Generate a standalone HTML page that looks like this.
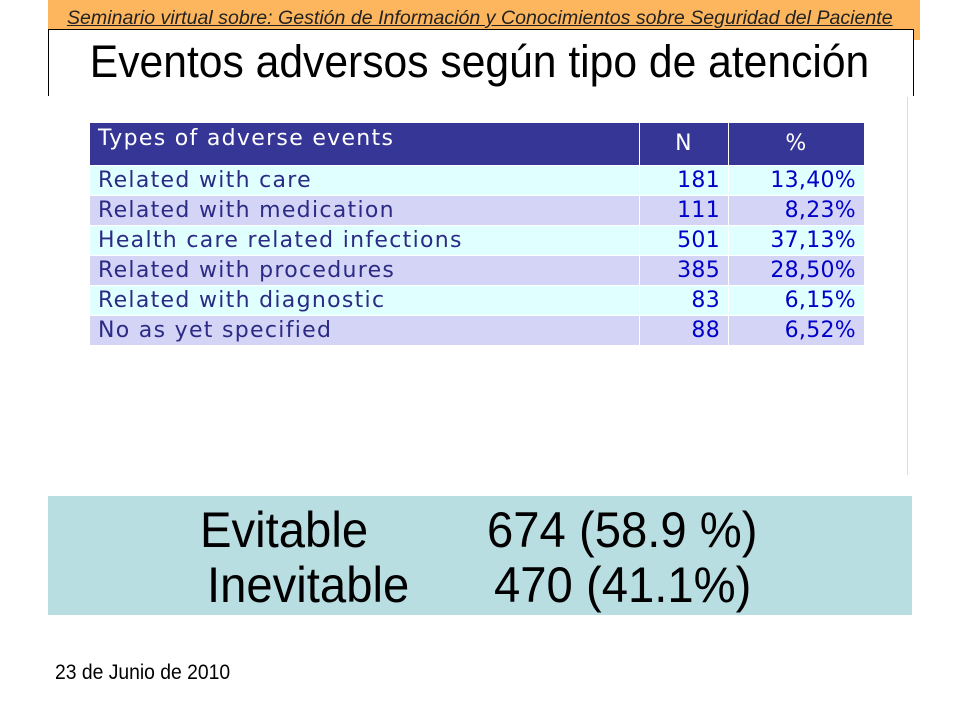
<!DOCTYPE html>
<html><head><meta charset="utf-8">
<style>
body{margin:0;width:960px;height:720px;background:#fff;position:relative;overflow:hidden;font-family:"Liberation Sans",sans-serif}
.abs{position:absolute}
#band{left:48px;top:0;width:872px;height:40px;background:#fdb65d}
#sub{left:0;width:960px;top:8px;text-align:center;font-style:italic;font-size:19px;color:#222;white-space:nowrap}
#sub span{display:inline-block;transform:scaleX(1.03);text-decoration:underline}
#titlebox{left:48px;top:29px;width:864px;height:66px;background:#fff;border-top:1px solid #000;border-left:1px solid #000;border-right:1px solid #000}
#title{left:0;width:960px;top:38px;text-align:center;font-size:45px;color:#000;white-space:nowrap;line-height:48px}
#title span{display:inline-block;transform:scaleX(0.947)}
#vline{left:907px;top:97px;width:1px;height:378px;background:#ddd}
table{position:absolute;left:90px;top:123px;border-collapse:collapse;font-family:"DejaVu Sans",sans-serif;font-size:22px;letter-spacing:1.3px;width:775px}
td{padding:0 8px;height:29px;line-height:29px;white-space:nowrap;border-right:1px solid #fff}
tr.h td{background:#363696;color:#fff;height:36px}
tr.a td{background:#e0ffff;color:#2b2b85;border-top:1px solid #fff}
tr.b td{background:#d4d4f7;color:#2b2b85;border-top:1px solid #fff}
td.n,td.p{text-align:right;color:#0000c8 !important;letter-spacing:0.3px}
#box{left:48px;top:496px;width:864px;height:119px;background:#b9dee2}
.big{font-size:50px;color:#000;white-space:nowrap;line-height:56px}
.big span{display:inline-block;transform-origin:left;transform:scaleX(0.945)}
#date{left:55px;top:661px;font-size:21px;color:#000}
#date span{display:inline-block;transform-origin:left;transform:scaleX(0.92)}
</style></head><body>
<div class="abs" id="band"></div>
<div class="abs" id="sub"><span>Seminario virtual sobre: Gestión de Información y Conocimientos sobre Seguridad del Paciente</span></div>
<div class="abs" id="titlebox"></div>
<div class="abs" id="title"><span>Eventos adversos según tipo de atención</span></div>
<div class="abs" id="vline"></div>
<table>
<tr class="h"><td style="width:533px;vertical-align:top;line-height:32px">Types of adverse events</td><td style="width:72px;text-align:center;line-height:42px">N</td><td style="text-align:center;line-height:42px">%</td></tr>
<tr class="a"><td>Related with care</td><td class="n">181</td><td class="p">13,40%</td></tr>
<tr class="b"><td>Related with medication</td><td class="n">111</td><td class="p">8,23%</td></tr>
<tr class="a"><td>Health care related infections</td><td class="n">501</td><td class="p">37,13%</td></tr>
<tr class="b"><td>Related with procedures</td><td class="n">385</td><td class="p">28,50%</td></tr>
<tr class="a"><td>Related with diagnostic</td><td class="n">83</td><td class="p">6,15%</td></tr>
<tr class="b"><td>No as yet specified</td><td class="n">88</td><td class="p">6,52%</td></tr>
</table>
<div class="abs" id="box"></div>
<div class="abs big" style="left:200px;top:502px"><span>Evitable</span></div>
<div class="abs big" style="left:487px;top:502px"><span>674 (58.9 %)</span></div>
<div class="abs big" style="left:207px;top:557px"><span>Inevitable</span></div>
<div class="abs big" style="left:494px;top:557px"><span>470 (41.1%)</span></div>
<div class="abs" id="date"><span>23 de Junio de 2010</span></div>
</body></html>
